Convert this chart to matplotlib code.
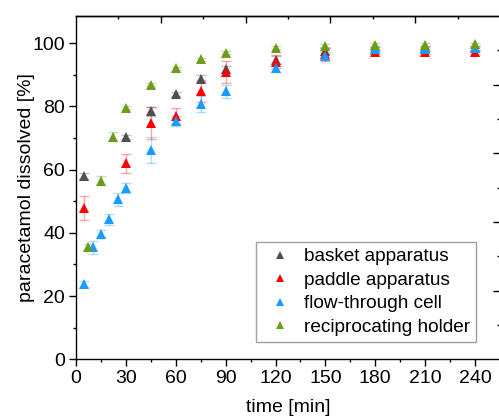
import matplotlib
matplotlib.use('Agg')
import matplotlib.pyplot as plt
from matplotlib.ticker import MultipleLocator, FixedLocator, NullFormatter

plt.rcParams['font.family'] = ['Liberation Sans', 'DejaVu Sans']

# ---- data ----
basket_t = [5, 30, 45, 60, 75, 90, 120, 150, 180, 210, 240]
basket_y = [58.0, 70.3, 78.4, 84.0, 88.8, 91.7, 94.7, 97.5, 98.3, 98.5, 98.5]
basket_e = [1.0, 0.6, 1.5, 0.6, 1.0, 1.0, 1.2, 1.0, 0.5, 0.5, 0.5]

paddle_t = [5, 30, 45, 60, 75, 90, 120, 150, 180, 210, 240]
paddle_y = [47.8, 62.0, 74.7, 77.0, 84.9, 91.0, 94.2, 96.5, 97.1, 97.1, 97.1]
paddle_e = [3.8, 3.0, 5.0, 2.5, 3.5, 3.5, 2.0, 2.0, 0.5, 0.5, 0.5]

flow_t = [5, 10, 15, 20, 25, 30, 45, 60, 75, 90, 120, 150, 180, 210, 240]
flow_y = [23.8, 35.4, 39.7, 44.3, 50.6, 54.3, 66.2, 75.4, 80.8, 84.8, 92.3, 96.1, 98.2, 98.2, 98.4]
flow_e = [1.0, 2.0, 1.2, 1.8, 2.0, 1.6, 4.0, 1.6, 2.5, 2.0, 1.5, 1.0, 0.5, 0.5, 0.5]

recip_t = [7.5, 15, 22.5, 30, 45, 60, 75, 90, 120, 150, 180, 210, 240]
recip_y = [35.6, 56.5, 70.4, 79.6, 86.8, 92.1, 94.9, 97.0, 98.6, 99.2, 99.5, 99.5, 99.6]
recip_e = [1.0, 1.5, 1.5, 0.5, 0.5, 0.5, 0.5, 0.5, 0.5, 0.5, 0.5, 0.5, 0.5]

labels = ['basket apparatus', 'paddle apparatus', 'flow-through cell', 'reciprocating holder']
colors = ['#505050', '#ff0000', '#1a9cff', '#6c9c1c']

series = [(basket_t, basket_y, basket_e),
          (paddle_t, paddle_y, paddle_e),
          (flow_t, flow_y, flow_e),
          (recip_t, recip_y, recip_e)]

xticks = [0, 30, 60, 90, 120, 150, 180, 210, 240]
yticks = [0, 20, 40, 60, 80, 100]

FS = 14

fig = plt.figure(figsize=(4.99, 4.17), dpi=100)
ax = fig.add_axes([76/499, 57.7/417, 424/499, 343.3/417])

handles = []
for (t, y, e), c, lab in zip(series, colors, labels):
    ax.errorbar(t, y, yerr=e, fmt='none', ecolor=c, alpha=0.35,
                elinewidth=1.0, capsize=3.5, capthick=1.0, zorder=2)
    h = ax.plot(t, y, linestyle='none', marker='^', markersize=7.5,
                color=c, markeredgewidth=0, label=lab, zorder=3)[0]
    handles.append(h)

ax.set_xlim(0, 255)
ax.set_ylim(0, 108.6)

ax.set_xticks(xticks)
ax.set_yticks(yticks)
ax.xaxis.set_minor_locator(MultipleLocator(15))
ax.yaxis.set_minor_locator(MultipleLocator(10))
ax.tick_params(axis='both', which='major', direction='out', length=5, width=1.0,
               labelsize=FS, pad=3)
ax.tick_params(axis='both', which='minor', direction='out', length=2.5, width=1.0)

for sp in ax.spines.values():
    sp.set_linewidth(1.0)

# top secondary ticks (inward)
top = ax.secondary_xaxis('top')
top.xaxis.set_major_locator(FixedLocator([51, 102, 153, 204]))
top.xaxis.set_minor_locator(FixedLocator([25.5, 76.5, 127.5, 178.5, 229.5]))
top.xaxis.set_major_formatter(NullFormatter())
top.tick_params(which='major', direction='in', length=5, width=1.0)
top.tick_params(which='minor', direction='in', length=2.5, width=1.0)
top.spines['top'].set_linewidth(1.0)

# right secondary ticks (inward)
right = ax.secondary_yaxis('right')
right.yaxis.set_major_locator(FixedLocator([21.72, 43.44, 65.16, 86.88]))
right.yaxis.set_minor_locator(FixedLocator([10.86, 32.58, 54.3, 76.02, 97.74]))
right.yaxis.set_major_formatter(NullFormatter())
right.tick_params(which='major', direction='in', length=5, width=1.0)
right.tick_params(which='minor', direction='in', length=2.5, width=1.0)

ax.set_xlabel('time [min]', fontsize=FS, labelpad=8.5)
ax.set_ylabel('paracetamol dissolved [%]', fontsize=FS, labelpad=-2)

leg = ax.legend(handles=handles, loc='lower right', bbox_to_anchor=(0.943, 0.0513),
                borderaxespad=0, fontsize=13.7, frameon=True, fancybox=False,
                edgecolor='#a0a0a0', framealpha=1, handlelength=1.9,
                handletextpad=0.33, labelspacing=0.33, borderpad=0.3,
                markerscale=0.85)
leg.get_frame().set_linewidth(1.0)

fig.savefig('out.png', dpi=100)
